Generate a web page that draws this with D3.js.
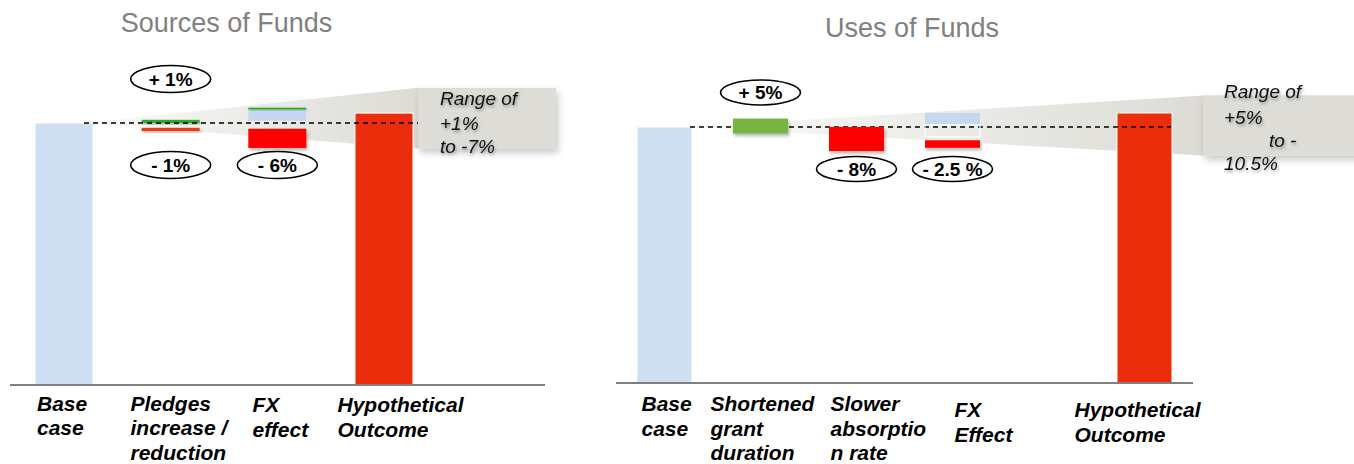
<!DOCTYPE html>
<html>
<head>
<meta charset="utf-8">
<script src="https://cdn.jsdelivr.net/npm/d3@7"></script>
<style>
  html, body { margin: 0; padding: 0; background: #ffffff; }
  svg { display: block; font-family: "Liberation Sans", Arial, sans-serif; }
  .range-note { filter: drop-shadow(1px 2px 1.5px rgba(0,0,0,0.35)); }
</style>
</head>
<body>
<svg id="chart" width="1354" height="464"></svg>
<script>
// ---------- Sources of Funds ----------
const sourcesTitle = "Sources of Funds";
const sourcesCategories = ["Base case", "Pledges increase / reduction", "FX effect", "Hypothetical Outcome"];
const sourcesLabelLines = [["Base", "case"], ["Pledges", "increase /", "reduction"], ["FX", "effect"], ["Hypothetical", "Outcome"]];
const sourcesBaseValue = 100;
const sourcesOutcomeValue = 103.1;
// each step: where it starts (index level, base = 100) and the change it shows
const sourcesSteps = [
  { category: "Pledges increase / reduction", from: 100, change: 1, kind: "gain", label: "+ 1%" },
  { category: "Pledges increase / reduction", from: 98.5, change: -1, kind: "loss", label: "- 1%" },
  { category: "FX effect", from: 100.7, change: 3.4, kind: "ghost" },
  { category: "FX effect", from: 104.2, change: 0.6, kind: "gain" },
  { category: "FX effect", from: 98.2, change: -6, kind: "loss", label: "- 6%" }
];
const sourcesRangeBand = [92, 111];
const sourcesRangeText = ["Range of", "+1%", "to -7%"];

// ---------- Uses of Funds ----------
const usesTitle = "Uses of Funds";
const usesCategories = ["Base case", "Shortened grant duration", "Slower absorption rate", "FX Effect", "Hypothetical Outcome"];
const usesLabelLines = [["Base", "case"], ["Shortened", "grant", "duration"], ["Slower", "absorptio", "n rate"], ["FX", "Effect"], ["Hypothetical", "Outcome"]];
const usesBaseValue = 100;
const usesOutcomeValue = 104.65;
const usesSteps = [
  { category: "Shortened grant duration", from: 97.8, change: 5, kind: "gain", label: "+ 5%" },
  { category: "Slower absorption rate", from: 100, change: -8, kind: "loss", label: "- 8%" },
  { category: "FX Effect", from: 100.7, change: 4.0, kind: "ghost" },
  { category: "FX Effect", from: 96.7, change: 4.0, kind: "outline" },
  { category: "FX Effect", from: 95.6, change: -2.5, kind: "loss", label: "- 2.5 %" }
];
const usesRangeBand = [90.5, 110.5];
const usesRangeText = ["Range of", "+5%", "to -", "10.5%"];

// ---------- layout ----------
const panels = [
  {
    title: sourcesTitle, categories: sourcesCategories, labelLines: sourcesLabelLines,
    base: sourcesBaseValue, outcome: sourcesOutcomeValue, steps: sourcesSteps,
    rangeBand: sourcesRangeBand, rangeText: sourcesRangeText,
    slots: [0, 1, 2, 3], slotCount: 4,
    xRange: [35, 413], paddingInner: 0.456,
    yDomain: [18, 100], yRange: [385, 123],
    axisX: [10, 545],
    wedgeStart: 84, boxX: [418, 556],
    labelX: [37, 130.5, 252.5, 337.5], labelY: [410.5, 410.5, 412, 412], lineStep: 24.5,
    ellipseY: { up: 79, down: 165 }, ellipseR: [40, 13.5],
    titleX: 226.5, titleY: 32,
    noteX: 440, noteIndent: [0, 0, 0], noteY: [105, 129.5, 153],
    dashX: [84, 418], dashOnTop: true,
    colors: { base: "#cfdff1", outcome: "#ec2d0b", gain: "#2cab2c", loss: "#ff0000",
              lossByCategory: { "Pledges increase / reduction": "#ef3a12" }, ghost: "#c6d8ef" }
  },
  {
    title: usesTitle, categories: usesCategories, labelLines: usesLabelLines,
    base: usesBaseValue, outcome: usesOutcomeValue, steps: usesSteps,
    rangeBand: usesRangeBand, rangeText: usesRangeText,
    slots: [0, 1, 2, 3, 5], slotCount: 6,
    xRange: [637, 1172], paddingInner: 0.427,
    yDomain: [15, 100], yRange: [383, 127],
    axisX: [616, 1193],
    wedgeStart: 690, boxX: [1203, 1360],
    labelX: [641.5, 710.5, 830.5, 954.5, 1074.5], labelY: [411, 411, 411, 417, 417], lineStep: 24.5,
    ellipseY: { up: 92.5, down: 169 }, ellipseR: [40, 12.5],
    titleX: 912, titleY: 37,
    noteX: 1224, noteIndent: [0, 0, 45, 0], noteY: [97.5, 123.5, 147, 170],
    dashX: [690, 1171], dashOnTop: false,
    colors: { base: "#cfdff1", outcome: "#ec2d0b", gain: "#77b443", loss: "#ff0000",
              lossByCategory: {}, ghost: "#c6d8ef" }
  }
];

const svg = d3.select("#chart");
const defs = svg.append("defs");

const grad = defs.append("linearGradient").attr("id", "wedgeFill")
  .attr("x1", "0%").attr("x2", "100%").attr("y1", "0%").attr("y2", "0%");
grad.append("stop").attr("offset", "0%").attr("stop-color", "#fbfbfa");
grad.append("stop").attr("offset", "100%").attr("stop-color", "#dcdbd5");

const boxShadow = defs.append("filter").attr("id", "boxShadow")
  .attr("x", "-10%").attr("y", "-20%").attr("width", "130%").attr("height", "160%");
boxShadow.append("feDropShadow").attr("dx", 2).attr("dy", 4).attr("stdDeviation", 3.5)
  .attr("flood-color", "#000").attr("flood-opacity", 0.22);

const markShadow = defs.append("filter").attr("id", "markShadow")
  .attr("x", "-20%").attr("y", "-40%").attr("width", "150%").attr("height", "200%");
markShadow.append("feDropShadow").attr("dx", 1.5).attr("dy", 2.5).attr("stdDeviation", 1.5)
  .attr("flood-color", "#000").attr("flood-opacity", 0.28);

panels.forEach(p => {
  const g = svg.append("g");

  const x = d3.scaleBand().domain(d3.range(p.slotCount))
    .range(p.xRange).paddingInner(p.paddingInner).paddingOuter(0);
  const y = d3.scaleLinear().domain(p.yDomain).range(p.yRange);
  const slotOf = c => p.slots[p.categories.indexOf(c)];
  const xOf = c => x(slotOf(c));
  const bw = x.bandwidth();
  const last = p.categories[p.categories.length - 1];
  const first = p.categories[0];

  // funnel from the base level out to the range box
  g.append("path")
    .attr("d", d3.line()([
      [p.wedgeStart, y(p.base)],
      [p.boxX[0], y(p.rangeBand[1])],
      [p.boxX[0], y(p.rangeBand[0])]
    ]) + "Z")
    .attr("fill", "url(#wedgeFill)");

  g.append("rect")
    .attr("x", p.boxX[0]).attr("width", p.boxX[1] - p.boxX[0])
    .attr("y", y(p.rangeBand[1])).attr("height", y(p.rangeBand[0]) - y(p.rangeBand[1]))
    .attr("fill", "#dddcd6").attr("filter", "url(#boxShadow)");

  // base case and hypothetical outcome columns
  const columns = [
    { category: first, value: p.base, color: p.colors.base },
    { category: last, value: p.outcome, color: p.colors.outcome }
  ];
  g.selectAll("rect.column").data(columns).join("rect")
    .attr("class", "column")
    .attr("x", d => xOf(d.category)).attr("width", bw)
    .attr("y", d => y(d.value)).attr("height", d => y(p.yDomain[0]) - y(d.value))
    .attr("fill", d => d.color)
    .attr("stroke", "#ffffff").attr("stroke-width", 1);

  const drawDash = () => g.append("line")
    .attr("x1", p.dashX[0]).attr("x2", p.dashX[1])
    .attr("y1", y(p.base)).attr("y2", y(p.base))
    .attr("stroke", "#000").attr("stroke-width", 1.3).attr("stroke-dasharray", "5,4");

  if (!p.dashOnTop) drawDash();

  // step segments
  const stepColor = d => {
    if (d.kind === "gain") return p.colors.gain;
    if (d.kind === "ghost") return p.colors.ghost;
    if (d.kind === "outline") return "none";
    return p.colors.lossByCategory[d.category] || p.colors.loss;
  };
  g.selectAll("rect.step").data(p.steps).join("rect")
    .attr("class", "step")
    .attr("x", d => xOf(d.category)).attr("width", bw)
    .attr("y", d => y(Math.max(d.from, d.from + d.change)))
    .attr("height", d => Math.abs(y(d.from) - y(d.from + d.change)))
    .attr("fill", stepColor)
    .attr("stroke", d => d.kind === "outline" ? "#ffffff" : "none")
    .attr("stroke-width", 1.2)
    .attr("filter", d => (d.kind === "gain" || d.kind === "loss") ? "url(#markShadow)" : null);

  if (p.dashOnTop) drawDash();

  // change call-outs
  const labelled = p.steps.filter(d => d.label);
  const callouts = g.selectAll("g.callout").data(labelled).join("g")
    .attr("class", "callout")
    .attr("transform", d => `translate(${xOf(d.category) + bw / 2},${d.change > 0 ? p.ellipseY.up : p.ellipseY.down})`);
  callouts.append("ellipse")
    .attr("rx", p.ellipseR[0]).attr("ry", p.ellipseR[1])
    .attr("fill", "#ffffff").attr("stroke", "#000").attr("stroke-width", 1.6);
  callouts.append("text")
    .attr("text-anchor", "middle").attr("y", 6.5)
    .attr("font-size", 19).attr("font-weight", "bold").attr("fill", "#000")
    .text(d => d.label);

  // baseline
  g.append("line")
    .attr("x1", p.axisX[0]).attr("x2", p.axisX[1])
    .attr("y1", y(p.yDomain[0])).attr("y2", y(p.yDomain[0]))
    .attr("stroke", "#7f7f7f").attr("stroke-width", 1.8);

  // category labels
  p.categories.forEach((c, i) => {
    const t = g.append("text")
      .attr("x", p.labelX[i]).attr("y", p.labelY[i])
      .attr("font-size", 21).attr("font-weight", "bold").attr("font-style", "italic")
      .attr("fill", "#000");
    t.selectAll("tspan").data(p.labelLines[i]).join("tspan")
      .attr("x", p.labelX[i]).attr("dy", (d, j) => j === 0 ? 0 : p.lineStep)
      .text(d => d);
  });

  // range note
  const note = g.append("text").attr("class", "range-note")
    .attr("font-size", 19).attr("font-style", "italic").attr("fill", "#111");
  note.selectAll("tspan").data(p.rangeText).join("tspan")
    .attr("x", (d, j) => p.noteX + p.noteIndent[j])
    .attr("y", (d, j) => p.noteY[j])
    .text(d => d);

  // panel title
  g.append("text")
    .attr("x", p.titleX).attr("y", p.titleY)
    .attr("text-anchor", "middle").attr("font-size", 27).attr("fill", "#808080")
    .text(p.title);
});
</script>
</body>
</html>
